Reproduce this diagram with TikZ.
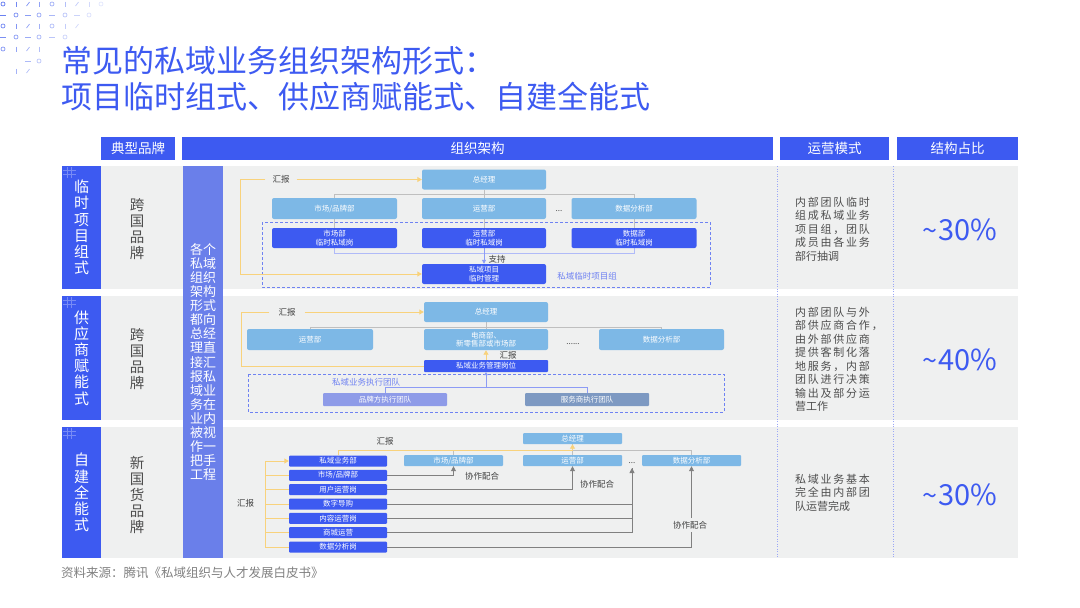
\documentclass[tikz,border=0pt]{standalone}
\usepackage{fontspec}
\setmainfont{Noto Sans CJK SC}
\newfontfamily\opfont[LetterSpace=16]{Noto Sans CJK SC}
\usetikzlibrary{arrows.meta}

\definecolor{hdblue}{HTML}{3D5AF1}
\definecolor{midblue}{HTML}{6A7FEA}
\definecolor{ltblue}{HTML}{7DB8E6}
\definecolor{panel}{HTML}{EFF0F0}
\definecolor{repyellow}{HTML}{F8D27C}
\definecolor{lavender}{HTML}{8E9BE8}
\definecolor{steel}{HTML}{7D99C2}
\definecolor{dashblue}{HTML}{6F82F2}
\definecolor{txtgray}{HTML}{4E4E4E}
\definecolor{decoblue}{HTML}{5B74F0}

\pgfdeclarelayer{bg}
\pgfdeclarelayer{wires}
\pgfsetlayers{bg,wires,main}

\tikzset{
  ttl/.style={text=hdblue, inner sep=0pt, font=\fontsize{31}{36}\selectfont},
  headbox/.style={fill=hdblue, text=white, inner sep=0pt, minimum height=23pt, font=\fontsize{13.5}{14}\selectfont},
  rowbox/.style={fill=hdblue, text=white, inner sep=0pt, minimum width=39pt, align=center, font=\fontsize{15}{16.2}\selectfont},
  midbox/.style={fill=midblue, text=white, inner sep=0pt, minimum width=40pt, minimum height=392pt, align=center, font=\fontsize{13}{14.1}\selectfont},
  brand/.style={text=txtgray, align=center, font=\fontsize{14.5}{16}\selectfont},
  ltbox/.style={fill=ltblue, text=white, rounded corners=2pt, inner sep=0pt, align=center, font=\fontsize{7.5}{8.5}\selectfont},
  dkbox/.style={ltbox, fill=hdblue},
  lbl/.style={text=black!75, inner sep=1pt, font=\fontsize{8.5}{9}\selectfont},
  grplbl/.style={text=dashblue, inner sep=0pt, font=\fontsize{8.5}{9}\selectfont},
  dotlbl/.style={text=black!70, inner sep=0pt, font=\fontsize{8}{9}\selectfont},
  optext/.style={text=txtgray, align=left, inner sep=0pt, font=\fontsize{11}{13.5}\selectfont},
  pct/.style={text=hdblue, inner sep=0pt, font=\fontsize{29}{30}\selectfont},
  src/.style={text=black!50, inner sep=0pt, font=\fontsize{12.5}{13}\selectfont},
  deco/.style={draw=decoblue, line width=0.7pt},
  rep/.style={draw=repyellow, line width=0.9pt},
  reparrow/.style={rep, -{Triangle[width=5pt,length=4.5pt]}, color=repyellow},
  orgline/.style={draw=black!25, line width=0.7pt},
  teamline/.style={draw=dashblue!80, line width=0.8pt},
  coline/.style={draw=black!50, line width=0.8pt},
  coarrow/.style={coline, -{Triangle[width=5pt,length=5pt]}},
  grpline/.style={draw=dashblue, line width=0.9pt, dash pattern=on 3pt off 2pt},
  sepline/.style={draw=dashblue!70, line width=0.6pt, dash pattern=on 1pt off 1.5pt}
}

\begin{document}
\begin{tikzpicture}[x=1pt, y=-1pt]
  \useasboundingbox (0,0) rectangle (1080,608);

  % Corner ornament
  \foreach \x/\y in {3/4,52/4,101/4,16/15,39/15,65/15,89/15,3/26,52/26,16/37,39/37,65/37,3/49,39/61}
    {\pgfmathsetmacro\op{max(0.15,1-\x/125-\y/220)}\draw[deco,opacity=\op] (\x,\y) circle (2);}
  \foreach \x/\y in {16/4,39/4,65/4,89/4,16/26,39/26,65/26,16/49,39/49,16/71}
    {\pgfmathsetmacro\op{max(0.15,1-\x/125-\y/220)}\draw[deco,opacity=\op] (\x,\y-2.5) -- (\x,\y+2.5);}
  \foreach \x/\y in {28/4,77/4,28/26,77/26,28/49,28/71}
    {\pgfmathsetmacro\op{max(0.15,1-\x/125-\y/220)}\draw[deco,opacity=\op] (\x-1.5,\y+2) -- (\x+1.5,\y-2);}
  \foreach \x/\y in {3/15,28/15,52/15,77/15,3/37,28/37,52/37,28/61}
    {\pgfmathsetmacro\op{max(0.15,1-\x/125-\y/220)}\draw[deco,opacity=\op] (\x-3,\y) -- (\x+3,\y);}

  % Title
  \node[ttl, anchor=west] (ttl1) at (61,61) {常见的私域业务组织架构形式：};
  \node[ttl, anchor=west] (ttl2) at (61,97) {项目临时组式、供应商赋能式、自建全能式};

  % Header
  \node[headbox, minimum width=74pt] (hbrand) at (138,148.5) {典型品牌};
  \node[headbox, minimum width=591pt] (horg) at (477.5,148.5) {组织架构};
  \node[headbox, minimum width=109pt] (hmode) at (834.5,148.5) {运营模式};
  \node[headbox, minimum width=121pt] (hshare) at (957.5,148.5) {结构占比};

  \begin{pgfonlayer}{bg}
    \fill[panel] (101,166) rectangle (1018,289);
    \fill[panel] (101,296) rectangle (1018,420);
    \fill[panel] (101,427) rectangle (1018,558);
    \draw[sepline] (777,166) -- (777,558);
    \draw[sepline] (893,166) -- (893,558);
  \end{pgfonlayer}

  % Left columns
  \node[rowbox, minimum height=123pt] (row1) at (81.5,227.5) {临\\时\\项\\目\\组\\式};
  \node[rowbox, minimum height=124pt] (row2) at (81.5,358) {供\\应\\商\\赋\\能\\式};
  \node[rowbox, minimum height=131pt] (row3) at (81.5,492.5) {自\\建\\全\\能\\式};
  \foreach \r in {166,296,427}
    {\draw[white, opacity=0.3, line width=0.4pt] (63,\r+4) -- (76,\r+4) (63,\r+8) -- (76,\r+8) (67,\r+1) -- (67,\r+12) (71,\r+1) -- (71,\r+12);}
  \node[brand] (brand1) at (137,229) {跨\\国\\品\\牌};
  \node[brand] (brand2) at (137,359) {跨\\国\\品\\牌};
  \node[brand] (brand3) at (137,495) {新\\国\\货\\品\\牌};
  \node[midbox] (mid) at (203,362) {各个\\私域\\组织\\架构\\形式\\都向\\总经\\理直\\接汇\\报私\\域业\\务在\\业内\\被视\\作一\\把手\\工程};

  % Row 1: project team
  \node[ltbox, minimum width=124pt, minimum height=20pt] (gm1) at (484,179.5) {总经理};
  \node[ltbox, minimum width=125pt, minimum height=21pt] (mkt1) at (334.5,208.5) {市场/品牌部};
  \node[ltbox, minimum width=124pt, minimum height=21pt] (ops1) at (484,208.5) {运营部};
  \node[ltbox, minimum width=125pt, minimum height=21pt] (data1) at (634,208.5) {数据分析部};
  \node[dotlbl] (dots1) at (559,211) {...};
  \node[dkbox, minimum width=125pt, minimum height=20pt] (tmk1) at (334.5,238) {市场部\\临时私域岗};
  \node[dkbox, minimum width=124pt, minimum height=20pt] (tops1) at (484,238) {运营部\\临时私域岗};
  \node[dkbox, minimum width=125pt, minimum height=20pt] (tdata1) at (634,238) {数据部\\临时私域岗};
  \node[dkbox, minimum width=124pt, minimum height=20pt] (pm1) at (484,274) {私域项目\\临时管理};
  \node[lbl, inner xsep=7pt] (rep1) at (281,179.5) {汇报};
  \node[lbl] (sup1) at (497,259) {支持};
  \node[grplbl] (grp1) at (587,276) {私域临时项目组};
  \coordinate (c1) at (240,274);

  % Row 2: supplier enabled
  \node[ltbox, minimum width=124pt, minimum height=20pt] (gm2) at (486,312) {总经理};
  \node[ltbox, minimum width=126pt, minimum height=21pt] (ops2) at (310,339.5) {运营部};
  \node[ltbox, minimum width=124pt, minimum height=21pt] (ec2) at (486,339.5) {电商部、\\新零售部或市场部};
  \node[ltbox, minimum width=125pt, minimum height=21pt] (data2) at (661.5,339.5) {数据分析部};
  \node[dotlbl] (dots2) at (573,344) {......};
  \node[dkbox, rounded corners=1pt, minimum width=124pt, minimum height=12pt] (mgr2) at (486,366) {私域业务管理岗位};
  \node[ltbox, fill=lavender, rounded corners=1pt, minimum width=124pt, minimum height=13pt] (brand2box) at (385,399.5) {品牌方执行团队};
  \node[ltbox, fill=steel, rounded corners=1pt, minimum width=124pt, minimum height=13pt] (svc2) at (587,399.5) {服务商执行团队};
  \node[lbl, inner xsep=9pt] (rep2) at (287,312) {汇报};
  \node[lbl] (rep2b) at (508,355) {汇报};
  \node[grplbl] (grp2) at (366,382) {私域业务执行团队};
  \coordinate (c2) at (241,366);
  \coordinate (bus2) at (486,388);

  % Row 3: in-house
  \node[ltbox, rounded corners=1pt, minimum width=99pt, minimum height=11pt] (gm3) at (572.5,438.5) {总经理};
  \node[ltbox, rounded corners=1pt, minimum width=99pt, minimum height=11pt] (mkt3) at (453.5,460.5) {市场/品牌部};
  \node[ltbox, rounded corners=1pt, minimum width=99pt, minimum height=11pt] (ops3) at (572.5,460.5) {运营部};
  \node[ltbox, rounded corners=1pt, minimum width=99pt, minimum height=11pt] (data3) at (691.5,460.5) {数据分析部};
  \node[dotlbl, anchor=south, inner ysep=4pt] (dots3) at (632,468) {...};
  \node[dkbox, rounded corners=1pt, minimum width=98pt, minimum height=11pt] (biz3) at (338,461) {私域业务部};
  \node[dkbox, rounded corners=1pt, minimum width=98pt, minimum height=11pt] (lmkt3) at (338,475.3) {市场/品牌部};
  \node[dkbox, rounded corners=1pt, minimum width=98pt, minimum height=11pt] (user3) at (338,489.6) {用户运营岗};
  \node[dkbox, rounded corners=1pt, minimum width=98pt, minimum height=11pt] (guide3) at (338,504) {数字导购};
  \node[dkbox, rounded corners=1pt, minimum width=98pt, minimum height=11pt] (cont3) at (338,518.3) {内容运营岗};
  \node[dkbox, rounded corners=1pt, minimum width=98pt, minimum height=11pt] (mall3) at (338,532.6) {商城运营};
  \node[dkbox, rounded corners=1pt, minimum width=98pt, minimum height=11pt] (ana3) at (338,547) {数据分析岗};
  \node[lbl] (rep3) at (385,441) {汇报};
  \node[lbl] (rep3b) at (245.5,503) {汇报};
  \node[lbl] (co1) at (482,476) {协作配合};
  \node[lbl] (co2) at (597,484) {协作配合};
  \node[lbl, fill=panel, inner ysep=3pt] (co3) at (690,525) {协作配合};
  \coordinate (c3) at (265,461);

  % Right columns
  \node[optext, anchor=west] (op1) at (795,229) {{\opfont 内部团队临时}\\{\opfont 组成私域业务}\\{\opfont 项目组，团队}\\{\opfont 成员由各业务}\\部行抽调};
  \node[optext, anchor=west] (op2) at (795,359.5) {{\opfont 内部团队与外}\\{\opfont 部供应商合作，}\\{\opfont 由外部供应商}\\{\opfont 提供客制化落}\\{\opfont 地服务，内部}\\{\opfont 团队进行决策}\\{\opfont 输出及部分运}\\营工作};
  \node[optext, anchor=west] (op3) at (795,492.5) {{\opfont 私域业务基本}\\{\opfont 完全由内部团}\\队运营完成};
  \node[pct] (pct1) at (960,230) {{\fontsize{27}{27}\selectfont\textasciitilde}\hspace{1pt}30\%};
  \node[pct] (pct2) at (960,360) {{\fontsize{27}{27}\selectfont\textasciitilde}\hspace{1pt}40\%};
  \node[pct] (pct3) at (960,495) {{\fontsize{27}{27}\selectfont\textasciitilde}\hspace{1pt}30\%};

  % Footer
  \node[src, anchor=west] (source) at (61,573) {资料来源：腾讯《私域组织与人才发展白皮书》};

  % Draw the connectors
  \begin{pgfonlayer}{wires}
    \draw[grpline] (262,222) rectangle (710,287);
    \draw[grpline] (248,374) rectangle (724,412);
    \draw[orgline] (gm1.south) -- ++(0,5) -| (mkt1.north);
    \draw[orgline] (gm1.south) -- ++(0,5) -| (data1.north);
    \draw[orgline] (gm1.south) -- (ops1.north);
    \draw[orgline] (mkt1.south) -- (tmk1.north);
    \draw[orgline] (ops1.south) -- (tops1.north);
    \draw[orgline] (data1.south) -- (tdata1.north);
    \draw[teamline, draw=dashblue!55] (tmk1.south) -- ++(0,5) -| (tdata1.south);
    \draw[teamline, -{Triangle[width=4pt,length=4pt]}] (tops1.south) -- (pm1.north);
    \draw[reparrow] (rep1.east) -- (gm1.west);
    \draw[reparrow] (rep1.west) -| (c1) -- (pm1.west);

    \draw[orgline] (gm2.south) -- ++(0,5) -| (ops2.north);
    \draw[orgline] (gm2.south) -- ++(0,5) -| (data2.north);
    \draw[orgline] (gm2.south) -- (ec2.north);
    \draw[reparrow] (mgr2.north) -- (ec2.south);
    \draw[reparrow] (rep2.east) -- (gm2.west);
    \draw[rep] (rep2.west) -| (c2) -- (mgr2.west);
    \draw[teamline, -{Triangle[width=4pt,length=3pt]}] (bus2) -- (mgr2.south);
    \draw[teamline] (brand2box.north) -- ++(0,-5) -| (svc2.north);

    \draw[orgline] (gm3.south) -- ++(0,6) -| (mkt3.north);
    \draw[orgline] (gm3.south) -- ++(0,6) -| (data3.north);
    \draw[orgline] (gm3.south) -- (ops3.north);
    \draw[reparrow] (biz3.north) -- ++(0,-5) -| (gm3.south);
    \draw[reparrow] (ana3.west) -| (c3) -- (biz3.west);
    \draw[rep] (lmkt3.west) -- ++(-24,0);
    \draw[rep] (user3.west) -- ++(-24,0);
    \draw[rep] (guide3.west) -- ++(-24,0);
    \draw[rep] (cont3.west) -- ++(-24,0);
    \draw[rep] (mall3.west) -- ++(-24,0);
    \draw[coarrow] (lmkt3.east) -| (mkt3.south);
    \draw[coarrow] (user3.east) -| (ops3.south);
    \draw[coarrow] (guide3.east) -| (dots3.south);
    \draw[coline] (cont3.east) -| (dots3.south);
    \draw[coline] (mall3.east) -| (dots3.south);
    \draw[coarrow] (ana3.east) -| (data3.south);
  \end{pgfonlayer}
\end{tikzpicture}
\end{document}
